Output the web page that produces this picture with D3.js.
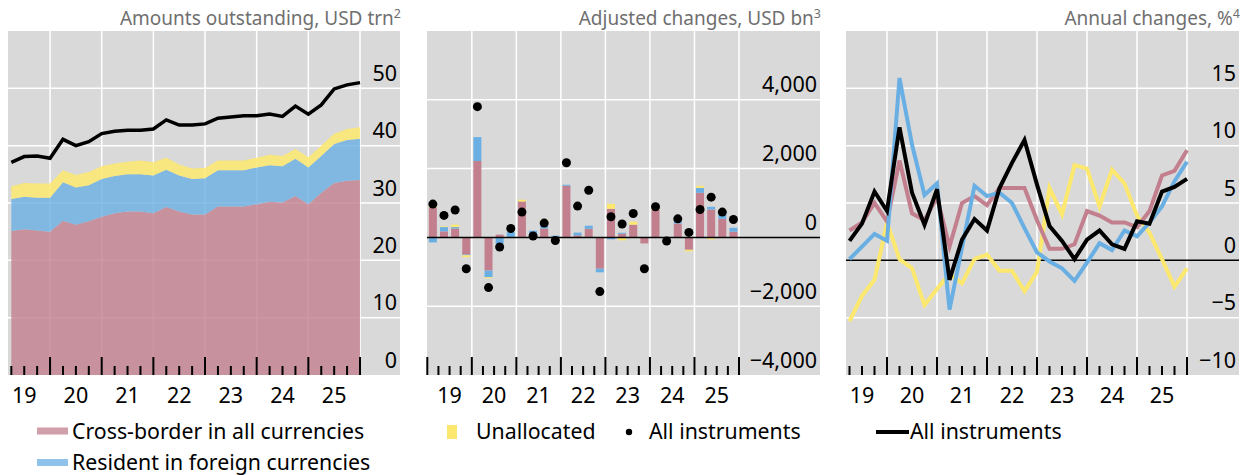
<!DOCTYPE html>
<html>
<head>
<meta charset="utf-8">
<script src="https://cdn.jsdelivr.net/npm/d3@7"></script>
<style>
  body { margin: 0; background: #fff; }
  svg { display: block; font-family: "Noto Sans", sans-serif; }
</style>
</head>
<body>
<div id="container"></div>
<script>
const width = 1248, height = 475;

// --- Data ---------------------------------------------------------------------
const quarters = [
  "2019Q1", "2019Q2", "2019Q3", "2019Q4", "2020Q1", "2020Q2", "2020Q3", "2020Q4",
  "2021Q1", "2021Q2", "2021Q3", "2021Q4", "2022Q1", "2022Q2", "2022Q3", "2022Q4",
  "2023Q1", "2023Q2", "2023Q3", "2023Q4", "2024Q1", "2024Q2", "2024Q3", "2024Q4",
  "2025Q1", "2025Q2", "2025Q3", "2025Q4",
];
const yearLabels = ["19", "20", "21", "22", "23", "24", "25"];

// Amounts outstanding, USD trn (stacked components + total line)
const stockCross = [25.1, 25.4, 25.2, 25.0, 26.9, 26.2, 26.8, 27.6, 28.2, 28.5, 28.5, 28.2, 29.3, 28.5,
  28.0, 28.0, 29.4, 29.4, 29.4, 29.8, 30.2, 30.1, 31.2, 29.8, 31.8, 33.5, 33.9, 34.0];
const stockResident = [5.6, 5.7, 5.7, 5.9, 6.7, 6.5, 6.3, 6.6, 6.5, 6.5, 6.5, 6.6, 6.5, 6.3,
  6.2, 6.3, 6.3, 6.3, 6.3, 6.4, 6.4, 6.3, 6.5, 6.4, 6.4, 6.8, 7.1, 7.2];
const stockUnalloc = [2.2, 2.4, 2.5, 2.5, 2.1, 2.2, 2.3, 2.2, 2.2, 2.2, 2.4, 2.3, 2.1, 1.9,
  1.8, 1.8, 1.7, 1.7, 1.7, 1.7, 1.8, 1.8, 1.7, 1.8, 1.8, 1.8, 1.9, 2.0];
const stockAll = [37.1, 38.1, 38.2, 37.8, 41.1, 40.0, 40.7, 42.1, 42.5, 42.7, 42.7, 42.9, 44.5, 43.6,
  43.6, 43.8, 44.8, 45.0, 45.2, 45.2, 45.5, 45.1, 46.9, 45.5, 47.1, 49.9, 50.6, 51.0];

// Adjusted changes, USD bn
const chgCross = [870, 175, 260, -500, 2220, -965, 80, 10, 1045, 0, 260, -125, 1500, 60,
  250, -910, 830, 105, 370, -175, 800, -20, 405, -360, 1295, 810, 540, 165];
const chgResident = [-145, 125, 40, -20, 695, -195, -195, 145, 0, 195, 200, 50, 30, 80,
  90, -105, -55, 30, 0, 0, 0, 0, 80, 0, 145, 80, 250, 115];
const chgUnalloc = [40, 20, 70, -55, 0, -30, -30, 0, 50, -30, 50, 0, 0, 0,
  0, 0, 145, -85, 85, 10, 40, 0, 10, -45, 60, -55, 30, 0];
const chgAll = [968, 640, 795, -910, 3800, -1460, -280, 260, 735, 40, 415, -90, 2170, 910,
  1370, -1575, 600, 390, 695, -910, 890, -105, 540, 145, 810, 1170, 735, 520];

// Annual changes, %
const growCross = [2.6, 3.3, 5.0, 3.4, 8.7, 4.1, 3.5, 5.5, 1.2, 5.0, 5.6, 4.8, 6.3, 6.3,
  6.3, 3.5, 1.0, 1.0, 1.4, 4.3, 3.9, 3.3, 3.3, 2.9, 4.3, 7.4, 7.8, 9.6];
const growResident = [0.1, 1.2, 2.3, 1.7, 15.9, 10.1, 5.7, 6.7, -4.3, 1.1, 6.5, 5.6, 5.9, 5.0,
  2.8, 0.7, -0.1, -0.7, -1.8, -0.2, 1.5, 0.9, 2.6, 2.1, 3.3, 4.7, 6.9, 8.6];
const growUnalloc = [-5.3, -3.1, -1.7, 3.3, 0.1, -0.7, -3.9, -2.5, -1.2, -2.0, 0.1, 0.5, -0.9, -0.9,
  -2.7, -1.0, 6.3, 4.0, 8.3, 8.0, 4.7, 7.9, 6.7, 3.9, 2.4, 0.1, -2.3, -0.7];
const growAll = [1.7, 3.2, 6.0, 4.3, 11.6, 5.9, 3.1, 6.2, -1.7, 1.8, 3.6, 2.6, 6.3, 8.5,
  10.5, 6.6, 3.0, 1.7, 0.1, 1.8, 2.6, 1.4, 1.0, 3.4, 3.2, 6.0, 6.4, 7.1];

const yTicks1 = [0, 10, 20, 30, 40, 50];
const yTicks2 = [-4000, -2000, 0, 2000, 4000];
const yTicks3 = [-10, -5, 0, 5, 10, 15];

// --- Styling ------------------------------------------------------------------
const col = { cross: "#c27f8e", resident: "#6aafe3", unalloc: "#fde86f", all: "#000" };
const bg = "#d9d9d9";
const plotTop = 31, plotBottom = 375;
const tickFont = "21.5px";

// quarter string -> fractional year at start of quarter
const qStart = (q) => +q.slice(0, 4) + (+q.slice(5) - 1) / 4;

const svg = d3.select("#container").append("svg").attr("width", width).attr("height", height);

function panel(opt) {
  const g = svg.append("g");
  const y = d3.scaleLinear().domain(opt.yDomain).range([plotBottom, plotTop]);
  const x = opt.x;

  g.append("rect").attr("x", opt.x0).attr("y", plotTop)
    .attr("width", opt.x1 - opt.x0).attr("height", plotBottom - plotTop).attr("fill", bg);

  // gridlines
  const years = d3.range(2020, 2027);
  g.selectAll("line.vg").data(years).join("line")
    .attr("x1", (d) => x(d)).attr("x2", (d) => x(d))
    .attr("y1", plotTop).attr("y2", plotBottom)
    .attr("stroke", "#fff").attr("stroke-width", 1.5);
  g.selectAll("line.hg").data(opt.ticks.filter((d) => d !== 0 && y(d) < plotBottom - 1)).join("line")
    .attr("x1", opt.x0).attr("x2", opt.x1)
    .attr("y1", (d) => y(d)).attr("y2", (d) => y(d))
    .attr("stroke", "#fff").attr("stroke-width", 1.5);

  const layer = g.append("g");
  opt.draw(layer, x, y);

  // y tick labels (right side, sitting above gridline)
  g.selectAll("text.yt").data(opt.ticks).join("text")
    .attr("x", opt.x1 - 3).attr("y", (d) => y(d) - 7.5)
    .attr("text-anchor", "end").attr("fill", "#000")
    .style("font-size", tickFont)
    .text((d) => d3.format(",")(d));

  // quarterly ticks along the bottom
  g.selectAll("line.xt").data(opt.tickTimes).join("line")
    .attr("x1", (d) => x(d)).attr("x2", (d) => x(d))
    .attr("y1", (d) => (Number.isInteger(d) ? plotBottom - 18 : plotBottom - 9)).attr("y2", plotBottom)
    .attr("stroke", "#000").attr("stroke-width", 2);

  // year labels, centred on each year
  g.selectAll("text.xl").data(yearLabels).join("text")
    .attr("x", (d) => x(2000 + +d + 0.5)).attr("y", 403)
    .attr("text-anchor", "middle").attr("fill", "#000")
    .style("font-size", tickFont)
    .text((d) => d);

  // title with superscript note
  const title = g.append("text").attr("x", opt.x1 + 1).attr("y", 25)
    .attr("text-anchor", "end").attr("fill", "#6f6f6f").style("font-size", "19px");
  title.append("tspan").text(opt.title);
  title.append("tspan").attr("dy", -7).style("font-size", "12.5px").text(opt.note);
}

const qEnd = quarters.map((q) => qStart(q) + 0.25);
const qMid = quarters.map((q) => qStart(q) + 0.125);

// --- Panel 1: amounts outstanding ---------------------------------------------
panel({
  x0: 8, x1: 400,
  x: d3.scaleLinear().domain([2019, 2026]).range([-1.6, 360]),
  yDomain: [0, 60], ticks: yTicks1, tickTimes: qEnd,
  title: "Amounts outstanding, USD trn", note: "2",
  draw(g, x, y) {
    const rows = quarters.map((q, i) => ({ t: qEnd[i], cross: stockCross[i], resident: stockResident[i], unalloc: stockUnalloc[i] }));
    const stack = d3.stack().keys(["cross", "resident", "unalloc"])(rows);
    const area = d3.area().x((d) => x(d.data.t)).y0((d) => y(d[0])).y1((d) => y(d[1]));
    g.selectAll("path.a").data(stack).join("path")
      .attr("d", area).attr("fill", (d) => col[d.key]).attr("fill-opacity", (d) => (d.key === "unalloc" ? 0.85 : 0.8));
    g.append("path").datum(stockAll)
      .attr("d", d3.line().x((d, i) => x(qEnd[i])).y((d) => y(d)))
      .attr("fill", "none").attr("stroke", col.all).attr("stroke-width", 3.5);
  },
});

// --- Panel 2: adjusted changes ------------------------------------------------
panel({
  x0: 427, x1: 820,
  x: d3.scaleLinear().domain([2019, 2026]).range([427.3, 739]),
  yDomain: [-4000, 6000], ticks: yTicks2,
  tickTimes: [2019].concat(qEnd),
  title: "Adjusted changes, USD bn", note: "3",
  draw(g, x, y) {
    const rows = quarters.map((q, i) => ({ t: qMid[i], cross: chgCross[i], resident: chgResident[i], unalloc: chgUnalloc[i] }));
    const stack = d3.stack().keys(["cross", "resident", "unalloc"]).offset(d3.stackOffsetDiverging)(rows);
    const bw = 8;
    g.selectAll("g.s").data(stack).join("g").attr("fill", (d) => col[d.key])
      .selectAll("rect").data((d) => d).join("rect")
      .attr("x", (d) => x(d.data.t) - bw / 2).attr("width", bw)
      .attr("y", (d) => y(Math.max(d[0], d[1])))
      .attr("height", (d) => Math.abs(y(d[0]) - y(d[1])));
    g.append("line").attr("x1", 427).attr("x2", 820).attr("y1", y(0)).attr("y2", y(0))
      .attr("stroke", "#000").attr("stroke-width", 1.5);
    g.selectAll("circle").data(chgAll).join("circle")
      .attr("cx", (d, i) => x(qMid[i])).attr("cy", (d) => y(d)).attr("r", 4.5).attr("fill", col.all);
  },
});

// --- Panel 3: annual changes --------------------------------------------------
panel({
  x0: 846, x1: 1239,
  x: d3.scaleLinear().domain([2019, 2026]).range([837, 1187]),
  yDomain: [-10, 20], ticks: yTicks3, tickTimes: qEnd,
  title: "Annual changes, %", note: "4",
  draw(g, x, y) {
    g.append("line").attr("x1", 846).attr("x2", 1239).attr("y1", y(0)).attr("y2", y(0))
      .attr("stroke", "#000").attr("stroke-width", 1.5);
    const line = d3.line().x((d, i) => x(qEnd[i])).y((d) => y(d));
    const series = [
      { v: growUnalloc, c: col.unalloc },
      { v: growCross, c: col.cross },
      { v: growResident, c: col.resident },
      { v: growAll, c: col.all },
    ];
    g.selectAll("path.l").data(series).join("path")
      .attr("d", (d) => line(d.v)).attr("fill", "none")
      .attr("stroke", (d) => d.c).attr("stroke-width", 4).attr("stroke-linejoin", "miter");
  },
});

// --- Legends ------------------------------------------------------------------
const leg = svg.append("g").style("font-size", "21.3px").attr("fill", "#000");
leg.append("rect").attr("x", 37).attr("y", 427.5).attr("width", 31).attr("height", 7)
  .attr("fill", col.cross).attr("fill-opacity", 0.75);
leg.append("text").attr("x", 72).attr("y", 439).text("Cross-border in all currencies");
leg.append("rect").attr("x", 37).attr("y", 459).attr("width", 31).attr("height", 7)
  .attr("fill", col.resident).attr("fill-opacity", 0.75);
leg.append("text").attr("x", 72).attr("y", 470).text("Resident in foreign currencies");

leg.append("rect").attr("x", 447).attr("y", 425).attr("width", 10).attr("height", 14).attr("fill", col.unalloc);
leg.append("text").attr("x", 476).attr("y", 439).text("Unallocated");
leg.append("circle").attr("cx", 629).attr("cy", 432).attr("r", 3.2).attr("fill", col.all);
leg.append("text").attr("x", 649).attr("y", 439).text("All instruments");

leg.append("line").attr("x1", 876).attr("x2", 909).attr("y1", 432).attr("y2", 432)
  .attr("stroke", col.all).attr("stroke-width", 4);
leg.append("text").attr("x", 910).attr("y", 439).text("All instruments");
</script>
</body>
</html>
